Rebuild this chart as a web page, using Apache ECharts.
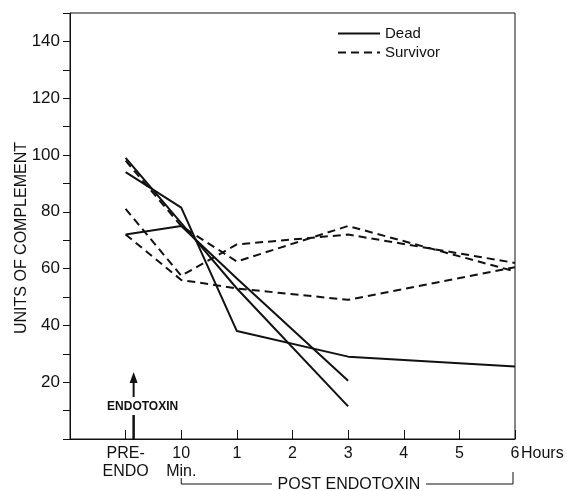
<!DOCTYPE html>
<html>
<head>
<meta charset="utf-8">
<script src="https://cdn.jsdelivr.net/npm/echarts@6/dist/echarts.min.js"></script>
<style>
  html, body { margin: 0; padding: 0; background: #fff; }
  #chart { width: 567px; height: 491px; }
</style>
</head>
<body>
<div id="chart"></div>
<script>
// time points; '' is the empty slot at the left edge of the axis
const timeLabels = ['', 'PRE-\nENDO', '10\nMin.', '1', '2', '3', '4', '5', '6'];

// dead animals (solid)
const deadA = [null, 99, 76, 53, null, 11.5, null, null, null];
const deadB = [null, 94, 81.5, 38, null, 29, null, null, 25.5];
const deadC = [null, 72, 75, 56.5, null, 20.5, null, null, null];

// survivors (dashed)
const survA = [null, 98, 75, 62.5, null, 75, null, null, 59];
const survB = [null, 81, 57.5, 68.5, null, 72, null, null, 62];
const survC = [null, 72, 56, 53, null, 49, null, null, 60.5];

const ink = '#111';
const font = 'Liberation Sans';

const chart = echarts.init(document.getElementById('chart'));

function lineSeries(name, data, dashed) {
  return {
    name: name,
    type: 'line',
    data: data,
    connectNulls: true,
    symbol: 'none',
    silent: true,
    color: ink,
    lineStyle: {
      color: ink,
      width: 2,
      type: dashed ? [8, 5] : 'solid'
    }
  };
}

chart.setOption({
  animation: false,
  grid: {
    left: 70,
    right: 52,
    top: 13,
    bottom: 52,
    outerBoundsMode: 'none',
    containLabel: false,
    show: true,
    borderColor: ink,
    borderWidth: 1
  },
  legend: {
    data: ['Dead', 'Survivor'],
    orient: 'vertical',
    left: 332,
    top: 21,
    itemWidth: 42,
    itemHeight: 12,
    itemGap: 4,
    itemStyle: { opacity: 0 },
    textStyle: { color: ink, fontSize: 15, fontFamily: font },
    selectedMode: false
  },
  xAxis: {
    type: 'category',
    data: timeLabels,
    boundaryGap: false,
    axisLine: { lineStyle: { color: ink, width: 1 } },
    axisTick: { inside: true, length: 9, lineStyle: { color: ink } },
    axisLabel: {
      color: ink,
      fontSize: 16,
      lineHeight: 18,
      fontFamily: font,
      margin: 6,
      interval: 0
    },
    splitLine: { show: false }
  },
  yAxis: {
    type: 'value',
    min: 0,
    max: 150,
    interval: 10,
    axisLine: { show: true, lineStyle: { color: ink, width: 1 } },
    axisTick: { show: true, length: 7, lineStyle: { color: ink } },
    axisLabel: {
      color: ink,
      fontSize: 17,
      fontFamily: font,
      margin: 10,
      formatter: function (v) {
        return (v % 20 === 0 && v > 0 && v < 150) ? String(v) : '';
      }
    },
    splitLine: { show: false }
  },
  series: [
    lineSeries('Dead', deadA, false),
    lineSeries('Dead', deadB, false),
    lineSeries('Dead', deadC, false),
    lineSeries('Survivor', survA, true),
    lineSeries('Survivor', survB, true),
    lineSeries('Survivor', survC, true)
  ]
});

// annotations placed from the axis scales
const pre = chart.convertToPixel({ xAxisIndex: 0 }, 1);
const tenMin = chart.convertToPixel({ xAxisIndex: 0 }, 2);
const six = chart.convertToPixel({ xAxisIndex: 0 }, 8);
const base = chart.convertToPixel({ yAxisIndex: 0 }, 0);
const arrowX = pre + 8;
const stroke = { stroke: ink, lineWidth: 2 };

chart.setOption({
  graphic: [
    {
      type: 'text', x: 22, y: 238, rotation: Math.PI / 2,
      style: { text: 'UNITS OF COMPLEMENT', fill: ink, font: '16px ' + font, align: 'center', verticalAlign: 'middle' }
    },
    { type: 'line', shape: { x1: arrowX, y1: 397, x2: arrowX, y2: 380 }, style: stroke },
    { type: 'polygon', shape: { points: [[arrowX - 4, 383], [arrowX + 4, 383], [arrowX, 372]] }, style: { fill: ink } },
    { type: 'line', shape: { x1: arrowX, y1: 415, x2: arrowX, y2: base }, style: { stroke: ink, lineWidth: 2.5 } },
    {
      type: 'text', x: arrowX + 9, y: 407,
      style: { text: 'ENDOTOXIN', fill: ink, font: 'bold 12px ' + font, align: 'center', verticalAlign: 'middle' }
    },
    {
      type: 'text', x: six + 6, y: base + 15,
      style: { text: 'Hours', fill: ink, font: '16px ' + font, align: 'left', verticalAlign: 'middle' }
    },
    {
      type: 'text', x: 349, y: 485,
      style: { text: 'POST ENDOTOXIN', fill: ink, font: '16px ' + font, align: 'center', verticalAlign: 'middle' }
    },
    {
      type: 'polyline',
      shape: { points: [[tenMin, 478], [tenMin, 484], [272, 484]] },
      style: { stroke: ink, lineWidth: 1, fill: null }
    },
    {
      type: 'polyline',
      shape: { points: [[426, 484], [six - 2, 484], [six - 2, 472]] },
      style: { stroke: ink, lineWidth: 1, fill: null }
    }
  ]
});
</script>
</body>
</html>
